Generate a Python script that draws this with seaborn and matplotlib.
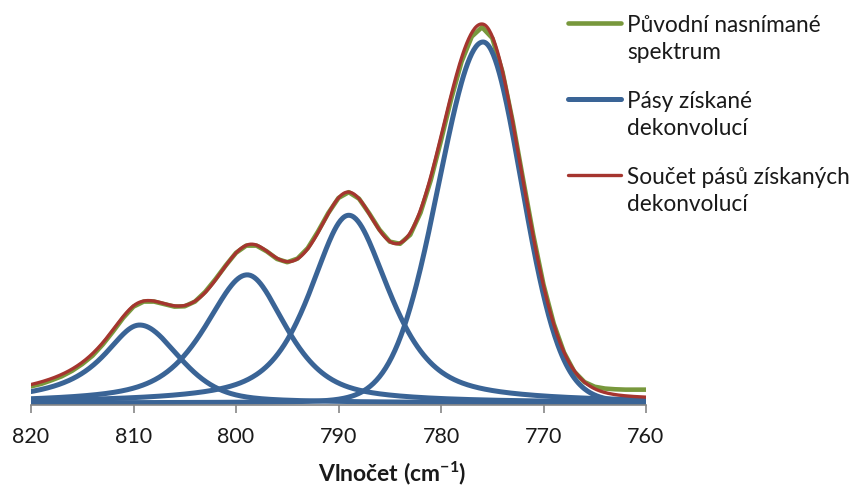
import numpy as np
import pandas as pd
import matplotlib
matplotlib.use("Agg")
import matplotlib.pyplot as plt
import seaborn as sns
from matplotlib.lines import Line2D

# measured spectrum, sampled every 1 cm-1 from 820 down to 760
measured_wn = list(range(820, 759, -1))
measured_abs = [
    0.046, 0.053, 0.063, 0.074, 0.089, 0.108, 0.131, 0.162, 0.198, 0.236,
    0.267, 0.281, 0.281, 0.274, 0.267, 0.268, 0.281, 0.308, 0.343, 0.381,
    0.416, 0.436, 0.436, 0.420, 0.399, 0.390, 0.400, 0.429, 0.475, 0.526,
    0.568, 0.584, 0.566, 0.525, 0.480, 0.447, 0.441, 0.466, 0.527, 0.617,
    0.727, 0.843, 0.945, 1.015, 1.041, 1.011, 0.917, 0.779, 0.621, 0.466,
    0.328, 0.220, 0.140, 0.087, 0.058, 0.045, 0.040, 0.038, 0.037, 0.037,
    0.037,
]

# deconvoluted bands (split pseudo-Voigt): centre, height, half-widths and
# Lorentzian fractions on the high- and low-wavenumber sides
band_centres = [809.4, 798.9, 789.0, 775.9]
band_heights = [0.216, 0.355, 0.520, 1.000]
band_hw_high = [4.4, 4.9, 4.5, 5.1]
band_hw_low = [4.5, 4.5, 4.7, 4.45]
band_eta_high = [1.0, 0.65, 0.65, 0.05]
band_eta_low = [0.4, 0.65, 0.65, 0.05]

x_ticks = [820, 810, 800, 790, 780, 770, 760]

wn = np.linspace(820, 760, 601)


def band_profile(x, c, h, hw_hi, hw_lo, eta_hi, eta_lo):
    high = x >= c
    hw = np.where(high, hw_hi, hw_lo)
    eta = np.where(high, eta_hi, eta_lo)
    u = ((x - c) / hw) ** 2
    return h * (eta / (1.0 + u) + (1.0 - eta) * np.exp(-np.log(2) * u))


params = list(zip(band_centres, band_heights, band_hw_high, band_hw_low, band_eta_high, band_eta_low))
frames = []
for i, p in enumerate(params):
    frames.append(pd.DataFrame({"wn": wn, "val": band_profile(wn, *p), "band": i}))
bands = pd.concat(frames, ignore_index=True)
total = bands.groupby("wn", sort=False)["val"].sum().reset_index()
measured = pd.DataFrame({"wn": measured_wn, "val": measured_abs})

GREEN = "#78983C"
BLUE = "#3A6496"
RED = "#A5352F"
GREY = "#868686"
TEXT = "#1a1a1a"

sns.set_theme(style="white")
plt.rcParams["font.family"] = ["Lato", "DejaVu Sans"]
plt.rcParams["mathtext.fontset"] = "custom"
plt.rcParams["mathtext.rm"] = "Lato"
plt.rcParams["mathtext.bf"] = "Lato:bold"

W, H = 854, 490
fig = plt.figure(figsize=(W / 100, H / 100), dpi=100)
ax = fig.add_axes([31 / W, (H - 405) / H, 615 / W, 395 / H])

sns.lineplot(data=measured, x="wn", y="val", color=GREEN, lw=3.3, ax=ax, legend=False)
sns.lineplot(data=bands, x="wn", y="val", units="band", estimator=None,
             color=BLUE, lw=3.6, ax=ax, legend=False)
sns.lineplot(data=total, x="wn", y="val", color=RED, lw=2.4, ax=ax, legend=False)

ax.set_xlim(820, 760)
ax.set_ylim(-2 / 361, 393 / 361)
ax.set_xticks(x_ticks)
ax.set_xticklabels([str(t) for t in x_ticks], fontsize=15.5, color=TEXT)
ax.set_yticks([])
ax.set_xlabel("")
ax.set_ylabel("")
for s in ("left", "top", "right"):
    ax.spines[s].set_visible(False)
ax.spines["bottom"].set_color(GREY)
ax.spines["bottom"].set_linewidth(1.2)
ax.tick_params(axis="x", direction="out", length=6, width=1.2, color=GREY, pad=10, bottom=True)

fig.text(392 / W, 1 - 473 / H, r"Vlnočet (cm$\mathbf{^{-1}}$)", ha="center", va="center",
         fontsize=16.5, fontweight="bold", color=TEXT)

legend_items = [
    (GREEN, 3.3, ["Původní nasnímané", "spektrum"], 23),
    (BLUE, 3.6, ["Pásy získané", "dekonvolucí"], 99),
    (RED, 2.4, ["Součet pásů získaných", "dekonvolucí"], 175),
]
for col, lw, lines, yh in legend_items:
    fig.add_artist(Line2D([568 / W, 621 / W], [1 - yh / H, 1 - yh / H], color=col, lw=lw,
                          transform=fig.transFigure, solid_capstyle="round"))
    for k, txt in enumerate(lines):
        fig.text(627 / W, 1 - (yh + 9 + 27 * k) / H, txt, ha="left", va="baseline",
                 fontsize=16.3, color=TEXT)

fig.savefig("out.png", dpi=100)
